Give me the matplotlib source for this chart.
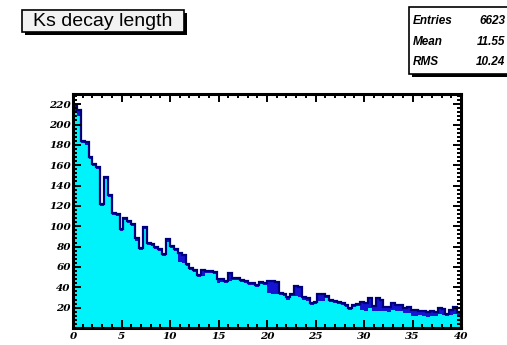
import numpy as np
import matplotlib
matplotlib.use("Agg")
import matplotlib.pyplot as plt
from matplotlib.patches import Rectangle
from matplotlib.ticker import MultipleLocator

# Histogram binning: 100 bins from 0 to 40
x_low, x_high, n_bins = 0.0, 40.0, 100

# All Ks candidates (dark blue histogram)
all_counts = [
    219, 214, 184, 183, 168, 161, 158, 122, 148, 131,
    113, 112, 97, 108, 105, 102, 88, 79, 99, 84,
    83, 80, 78, 73, 87, 81, 78, 74, 72, 63,
    59, 57, 52, 57, 56, 56, 55, 48, 48, 46,
    54, 49, 49, 47, 46, 44, 44, 42, 45, 44,
    46, 46, 45, 34, 33, 30, 33, 41, 40, 30,
    29, 25, 26, 33, 33, 31, 28, 27, 26, 25,
    23, 20, 23, 24, 26, 25, 29, 22, 29, 28,
    21, 21, 25, 23, 23, 20, 21, 18, 18, 17,
    17, 16, 17, 16, 20, 19, 14, 18, 21, 16,
]

# Selected Ks candidates (cyan histogram)
sel_counts = [
    211, 208, 182, 180, 166, 159, 156, 120, 146, 129,
    111, 110, 95, 106, 103, 100, 86, 77, 97, 82,
    81, 78, 76, 71, 85, 79, 76, 65, 64, 61,
    57, 55, 50, 51, 54, 54, 53, 44, 45, 44,
    46, 47, 47, 45, 44, 42, 42, 40, 43, 42,
    34, 33, 33, 32, 31, 28, 31, 31, 30, 28,
    27, 23, 24, 27, 27, 29, 26, 25, 24, 23,
    21, 18, 21, 22, 18, 17, 20, 17, 17, 17,
    17, 16, 18, 17, 17, 15, 15, 12, 12, 13,
    12, 11, 12, 12, 14, 13, 12, 13, 14, 12,
]

stat_labels = ["Entries", "Mean", "RMS"]
stat_values = ["6623", "11.55", "10.24"]
title_text = "Ks decay length"

W, H = 507, 345
fig = plt.figure(figsize=(W / 100, H / 100), dpi=100)
fig.patch.set_facecolor("white")


def fx(px):
    return px / W


def fy(py):
    return 1 - py / H


# Frame
ax_l, ax_r, ax_t, ax_b = 73, 461, 94, 328
ax = fig.add_axes([fx(ax_l), fy(ax_b), (ax_r - ax_l) / W, (ax_b - ax_t) / H])

edges = np.linspace(x_low, x_high, n_bins + 1)
ax.stairs(all_counts, edges, fill=True, color="#1414d2", zorder=1)
ax.stairs(sel_counts, edges, fill=True, color="#00f2fa", zorder=1.2)
ax.stairs(all_counts, edges, color="#00007a", linewidth=1.6, zorder=1.5)

ax.set_xlim(x_low, x_high)
ax.set_ylim(0, 230)

ax.xaxis.set_major_locator(MultipleLocator(5))
ax.xaxis.set_minor_locator(MultipleLocator(1))
ax.yaxis.set_major_locator(MultipleLocator(20))
ax.yaxis.set_minor_locator(MultipleLocator(4))

ax.tick_params(which="both", direction="in", top=True, right=True,
               color="black", width=1.4)
ax.tick_params(which="major", length=6)
ax.tick_params(which="minor", length=3)
ax.tick_params(axis="x", which="major", pad=3)
ax.tick_params(axis="y", which="major", pad=1.5)

yticks = [t for t in range(20, 221, 20)]
ax.set_yticks(yticks)
ax.set_yticklabels([str(t) for t in yticks])
ax.set_xticks(range(0, 41, 5))
ax.set_xticklabels([str(t) for t in range(0, 41, 5)])

for lab in ax.get_xticklabels() + ax.get_yticklabels():
    lab.set_family("DejaVu Serif")
    lab.set_style("italic")
    lab.set_weight("bold")
    lab.set_fontsize(7.5)

for sp in ax.spines.values():
    sp.set_linewidth(2.2)
    sp.set_color("black")
    sp.set_zorder(3)

# Title box with drop shadow
tb_l, tb_r, tb_t, tb_b = 22, 184, 10, 32
sh = 3
fig.patches.append(Rectangle((fx(tb_l + sh), fy(tb_b + sh)), (tb_r - tb_l) / W, (tb_b - tb_t) / H,
                             transform=fig.transFigure, facecolor="black", edgecolor="none", zorder=1))
fig.patches.append(Rectangle((fx(tb_l), fy(tb_b)), (tb_r - tb_l) / W, (tb_b - tb_t) / H,
                             transform=fig.transFigure, facecolor="#f2f2f2", edgecolor="black",
                             linewidth=1.2, zorder=2))
fig.text(fx((tb_l + tb_r) / 2), fy((tb_t + tb_b) / 2), title_text, ha="center", va="center",
         family="Liberation Sans", fontsize=14, zorder=3)

# Statistics box with drop shadow
sb_l, sb_r, sb_t, sb_b = 409, 520, 7, 74
fig.patches.append(Rectangle((fx(sb_l + sh), fy(sb_b + sh)), (sb_r - sb_l) / W, (sb_b - sb_t) / H,
                             transform=fig.transFigure, facecolor="black", edgecolor="none", zorder=1))
fig.patches.append(Rectangle((fx(sb_l), fy(sb_b)), (sb_r - sb_l) / W, (sb_b - sb_t) / H,
                             transform=fig.transFigure, facecolor="white", edgecolor="black",
                             linewidth=1.2, zorder=2))
row_y = [21, 42, 62]
for lab, val, ry in zip(stat_labels, stat_values, row_y):
    fig.text(fx(413), fy(ry), lab, ha="left", va="center", family="Liberation Sans",
             style="italic", weight="bold", fontsize=8.5, zorder=3)
    fig.text(fx(505), fy(ry), val, ha="right", va="center", family="Liberation Sans",
             style="italic", weight="bold", fontsize=8.5, zorder=3)

fig.savefig("out.png", dpi=100)
